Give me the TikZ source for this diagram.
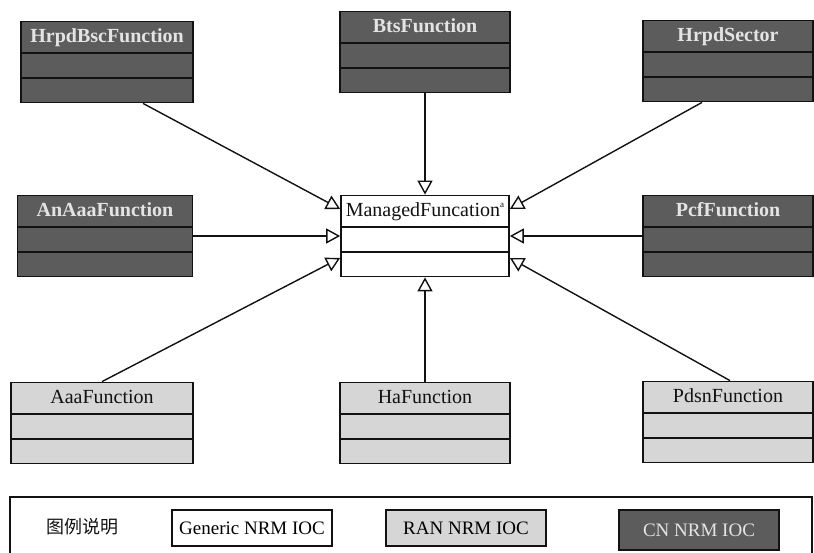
\documentclass[tikz,border=0pt]{standalone}
\usepackage{fontspec}
\setmainfont{Liberation Serif}
\newfontfamily\cjkfont{Noto Sans CJK SC}
\usetikzlibrary{arrows.meta,shapes.multipart}
\definecolor{ink}{RGB}{18,18,18}
\definecolor{cnfill}{RGB}{92,92,92}
\definecolor{ranfill}{RGB}{214,214,214}
\definecolor{cntext}{RGB}{228,228,228}
\tikzset{
  ioc/.style={rectangle split,rectangle split parts=3,draw=ink,line width=1.7pt,
    minimum width=172pt,inner xsep=2pt,inner ysep=3pt,
    rectangle split empty part height=17pt,rectangle split empty part depth=0pt,
    font=\fontsize{20}{24}\selectfont,execute at begin node=\strut},
  cnioc/.style={ioc,fill=cnfill,text=cntext,font=\fontsize{20}{24}\selectfont\bfseries},
  ranioc/.style={ioc,fill=ranfill,text=ink},
  key/.style={draw=ink,line width=1.3pt,minimum height=36pt,minimum width=160pt,
    inner xsep=5pt,inner ysep=2pt,font=\fontsize{19}{23}\selectfont},
  gen/.style={draw=ink,line width=1.4pt,
    -{Triangle[open,length=14pt,width=15pt,fill=white]}}
}

\begin{document}
\begin{tikzpicture}[x=1pt,y=-1pt]
  \useasboundingbox[fill=white] (0,0) rectangle (814,553);
  % classes
  \node[cnioc] (hrpdbsc) at (107,62) {HrpdBscFunction};
  \node[cnioc,minimum width=170pt] (bts) at (425,52) {BtsFunction};
  \node[cnioc,minimum width=170pt] (sector) at (728,61) {HrpdSector};
  \node[cnioc,minimum width=175pt] (anaaa) at (105,236) {AnAaaFunction};
  \node[ioc,fill=white,text=ink,minimum width=168pt] (mf) at (425,236)
    {ManagedFuncation\raisebox{9pt}{\fontsize{9}{9}\selectfont a}};
  \node[cnioc,minimum width=170pt] (pcf) at (728,236) {PcfFunction};
  \node[ranioc,minimum width=182pt] (aaa) at (102,423) {AaaFunction};
  \node[ranioc,minimum width=170pt] (ha) at (425,423) {HaFunction};
  \node[ranioc,minimum width=170pt] (pdsn) at (728,422) {PdsnFunction};
  % generalisations
  \draw[gen] ([xshift=36pt]hrpdbsc.south) -- ([yshift=27pt]mf.west);
  \draw[gen] (bts.south) -- (mf.north);
  \draw[gen] ([xshift=-26pt]sector.south) -- ([yshift=27pt]mf.east);
  \draw[gen] (anaaa.east) -- (mf.west);
  \draw[gen] (pcf.west) -- (mf.east);
  \draw[gen] (aaa.north) -- ([yshift=-22pt]mf.west);
  \draw[gen] (ha.north) -- (mf.south);
  \draw[gen] ([xshift=2pt]pdsn.north) -- ([yshift=-22pt]mf.east);
  % legend
  \draw[draw=ink,line width=1.3pt] (10,497) rectangle (812,562);
  \node[font=\cjkfont\fontsize{18}{21}\selectfont,text=ink] (legend) at (82,527) {图例说明};
  \node[key,fill=white] (generic) at (252,528) {Generic NRM IOC};
  \node[key,fill=ranfill] (ran) at (466,528) {RAN NRM IOC};
  \node[key,fill=cnfill,text=cntext,minimum height=40pt] (cn) at (699,530) {CN NRM IOC};
\end{tikzpicture}
\end{document}
